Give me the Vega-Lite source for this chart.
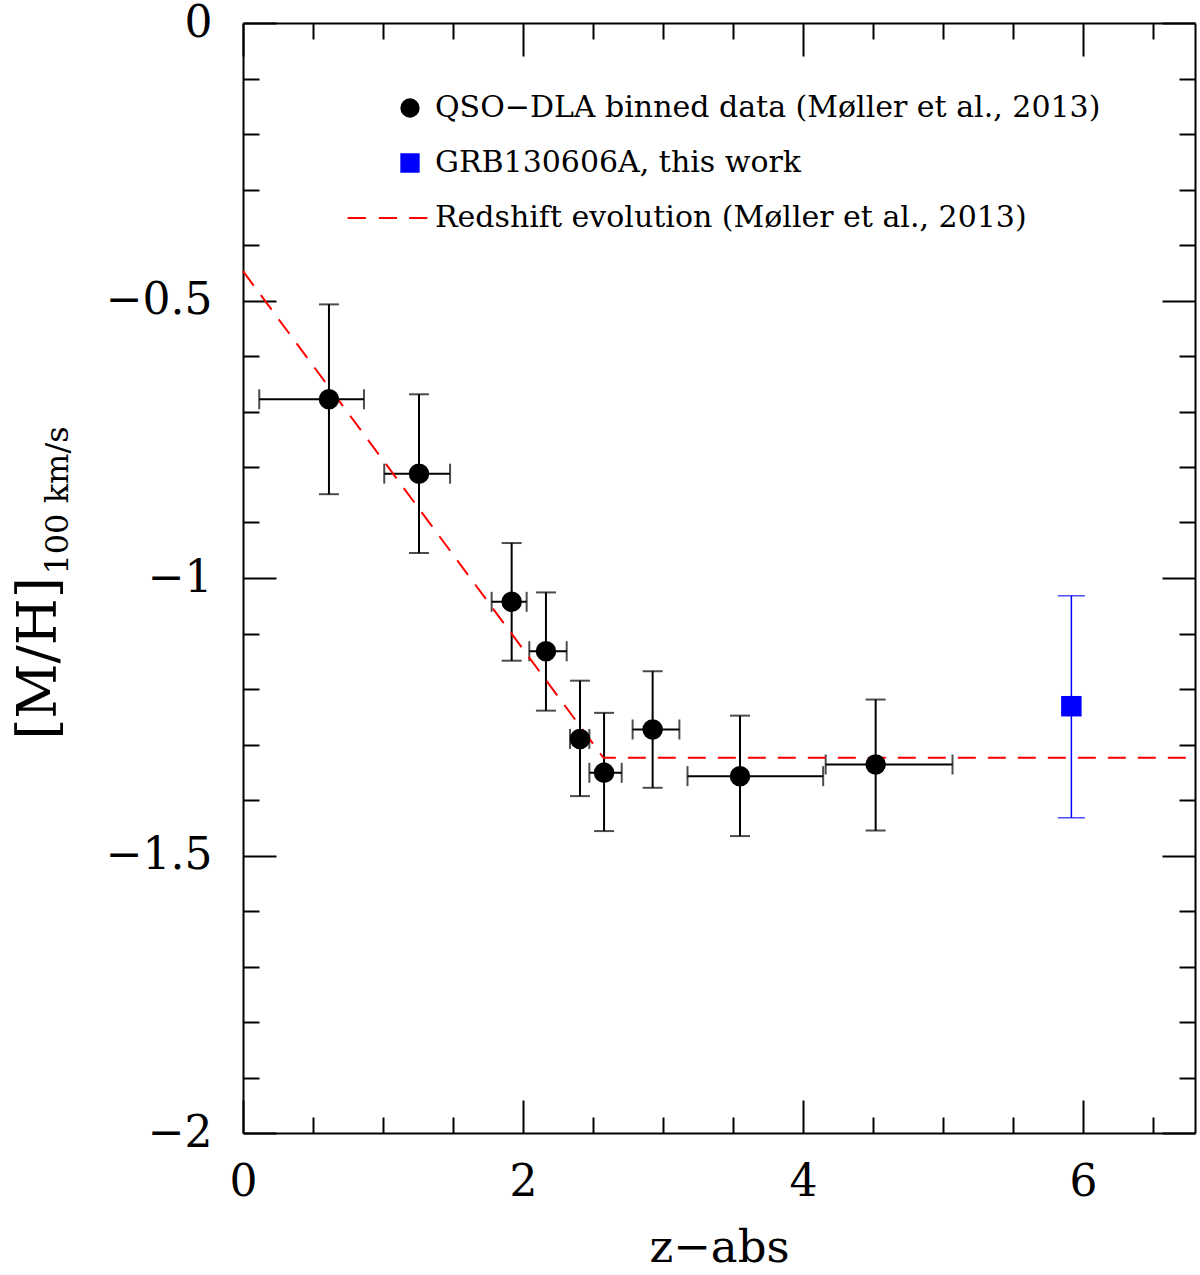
{
  "$schema": "https://vega.github.io/schema/vega-lite/v6.json",
  "width": 952,
  "height": 1110,
  "autosize": "none",
  "padding": {"left": 243, "top": 23, "right": 5, "bottom": 142},
  "background": "white",
  "config": {
    "view": {"stroke": null},
    "font": "DejaVu Serif",
    "axis": {
      "domainColor": "black", "domainWidth": 2,
      "tickColor": "black", "tickWidth": 2,
      "labelColor": "black", "titleColor": "black",
      "grid": false,
      "labelFont": "DejaVu Serif", "titleFont": "DejaVu Serif",
      "titleFontWeight": "normal",
      "labelFlush": false, "labelOverlap": false
    }
  },
  "datasets": {
    "points": [
      {"series": "QSO−DLA binned data (Møller et al., 2013)", "z": 0.614, "zlo": 0.116, "zhi": 0.864, "mh": -0.678, "mhlo": -0.849, "mhhi": -0.507},
      {"series": "QSO−DLA binned data (Møller et al., 2013)", "z": 1.257, "zlo": 1.009, "zhi": 1.479, "mh": -0.812, "mhlo": -0.955, "mhhi": -0.669},
      {"series": "QSO−DLA binned data (Møller et al., 2013)", "z": 1.919, "zlo": 1.776, "zhi": 2.026, "mh": -1.043, "mhlo": -1.149, "mhhi": -0.937},
      {"series": "QSO−DLA binned data (Møller et al., 2013)", "z": 2.164, "zlo": 2.045, "zhi": 2.312, "mh": -1.132, "mhlo": -1.239, "mhhi": -1.026},
      {"series": "QSO−DLA binned data (Møller et al., 2013)", "z": 2.407, "zlo": 2.336, "zhi": 2.474, "mh": -1.29, "mhlo": -1.393, "mhhi": -1.185},
      {"series": "QSO−DLA binned data (Møller et al., 2013)", "z": 2.579, "zlo": 2.474, "zhi": 2.705, "mh": -1.351, "mhlo": -1.456, "mhhi": -1.243},
      {"series": "QSO−DLA binned data (Møller et al., 2013)", "z": 2.926, "zlo": 2.783, "zhi": 3.117, "mh": -1.273, "mhlo": -1.378, "mhhi": -1.168},
      {"series": "QSO−DLA binned data (Møller et al., 2013)", "z": 3.55, "zlo": 3.175, "zhi": 4.144, "mh": -1.357, "mhlo": -1.465, "mhhi": -1.248},
      {"series": "QSO−DLA binned data (Møller et al., 2013)", "z": 4.519, "zlo": 4.162, "zhi": 5.068, "mh": -1.336, "mhlo": -1.455, "mhhi": -1.219},
      {"series": "GRB130606A, this work", "z": 5.917, "mh": -1.231, "mhlo": -1.432, "mhhi": -1.032}
    ],
    "fit": [
      {"z": 0, "mh": -0.447},
      {"z": 2.575, "mh": -1.324},
      {"z": 6.8, "mh": -1.324}
    ]
  },
  "resolve": {"axis": {"x": "independent", "y": "independent"}},
  "layer": [
    {
      "data": {"name": "points"},
      "transform": [{"filter": {"field": "series", "equal": "QSO−DLA binned data (Møller et al., 2013)"}}],
      "mark": {"type": "errorbar", "orient": "horizontal", "ticks": true, "size": 20, "thickness": 2, "color": "black"},
      "encoding": {
        "x": {"field": "zlo", "type": "quantitative", "scale": {"domain": [0, 6.8], "nice": false, "zero": false},
          "axis": {"orient": "bottom", "values": [0, 2, 4, 6], "tickSize": -33, "labelFontSize": 44, "labelPadding": 60, "format": "~g",
            "title": "z−abs", "titleFontSize": 45, "titleX": 476, "titleY": 128, "titleAlign": "center", "titleBaseline": "alphabetic", "titleAngle": 0}},
        "x2": {"field": "zhi"},
        "y": {"field": "mh", "type": "quantitative", "scale": {"domain": [-2, 0], "nice": false, "zero": false},
          "axis": {"orient": "left", "values": [0, -0.5, -1, -1.5, -2], "tickSize": -33, "labelFontSize": 44, "labelPadding": 64, "format": "~g",
            "title": "[M/H]", "titleFontSize": 54, "titleX": -188, "titleY": 635, "titleAngle": 270, "titleAlign": "center", "titleBaseline": "alphabetic"}}
      }
    },
    {
      "data": {"name": "points"},
      "transform": [{"filter": {"field": "series", "equal": "QSO−DLA binned data (Møller et al., 2013)"}}],
      "mark": {"type": "errorbar", "orient": "vertical", "ticks": true, "size": 20, "thickness": 2, "color": "black"},
      "encoding": {
        "x": {"field": "z", "type": "quantitative", "scale": {"domain": [0, 6.8], "nice": false, "zero": false},
          "axis": {"orient": "bottom", "values": [0.5, 1, 1.5, 2.5, 3, 3.5, 4.5, 5, 5.5, 6.5], "tickSize": -16, "labels": false, "domain": false, "title": null}},
        "y": {"field": "mhlo", "type": "quantitative", "scale": {"domain": [-2, 0], "nice": false, "zero": false},
          "axis": {"orient": "left", "values": [-0.1, -0.2, -0.3, -0.4, -0.6, -0.7, -0.8, -0.9, -1.1, -1.2, -1.3, -1.4, -1.6, -1.7, -1.8, -1.9],
            "tickSize": -16, "labels": false, "domain": false,
            "title": "100 km/s", "titleFontSize": 32, "titleX": -176, "titleY": 477, "titleAngle": 270, "titleAlign": "center", "titleBaseline": "alphabetic"}},
        "y2": {"field": "mhhi"}
      }
    },
    {
      "data": {"name": "points"},
      "transform": [{"filter": {"field": "series", "equal": "GRB130606A, this work"}}],
      "mark": {"type": "errorbar", "orient": "vertical", "ticks": true, "size": 27, "thickness": 1.5, "color": "#0000ff"},
      "encoding": {
        "x": {"field": "z", "type": "quantitative", "scale": {"domain": [0, 6.8], "nice": false, "zero": false},
          "axis": {"orient": "top", "values": [0, 2, 4, 6], "tickSize": -33, "labels": false, "title": null}},
        "y": {"field": "mhlo", "type": "quantitative", "scale": {"domain": [-2, 0], "nice": false, "zero": false},
          "axis": {"orient": "right", "values": [0, -0.5, -1, -1.5, -2], "tickSize": -33, "labels": false, "title": null}},
        "y2": {"field": "mhhi"}
      }
    },
    {
      "data": {"name": "fit"},
      "mark": {"type": "line", "color": "#ff0000", "strokeDash": [18, 12], "strokeWidth": 2},
      "encoding": {
        "x": {"field": "z", "type": "quantitative", "scale": {"domain": [0, 6.8], "nice": false, "zero": false},
          "axis": {"orient": "top", "values": [0.5, 1, 1.5, 2.5, 3, 3.5, 4.5, 5, 5.5, 6.5], "tickSize": -16, "labels": false, "domain": false, "title": null}},
        "y": {"field": "mh", "type": "quantitative", "scale": {"domain": [-2, 0], "nice": false, "zero": false},
          "axis": {"orient": "right", "values": [-0.1, -0.2, -0.3, -0.4, -0.6, -0.7, -0.8, -0.9, -1.1, -1.2, -1.3, -1.4, -1.6, -1.7, -1.8, -1.9],
            "tickSize": -16, "labels": false, "domain": false, "title": null}}
      }
    },
    {
      "data": {"name": "points"},
      "mark": {"type": "point", "filled": true, "size": 420, "opacity": 1},
      "encoding": {
        "x": {"field": "z", "type": "quantitative", "scale": {"domain": [0, 6.8], "nice": false, "zero": false}, "axis": null},
        "y": {"field": "mh", "type": "quantitative", "scale": {"domain": [-2, 0], "nice": false, "zero": false}, "axis": null},
        "color": {"field": "series", "type": "nominal",
          "scale": {"domain": ["QSO−DLA binned data (Møller et al., 2013)", "GRB130606A, this work", "Redshift evolution (Møller et al., 2013)"], "range": ["#000000", "#0000ff", "#ff0000"]},
          "legend": {
            "title": null, "orient": "none", "legendX": 152, "legendY": 70, "padding": 0,
            "labelFont": "DejaVu Serif", "labelFontSize": 30, "labelColor": "black", "labelLimit": 900, "labelOffset": 10,
            "rowPadding": 25, "symbolSize": 300, "symbolOpacity": 1, "symbolStrokeWidth": 2,
            "encode": {"symbols": {"update": {"stroke": {"scale": "color", "field": "value"}, "strokeWidth": {"value": 2}}}}
          }},
        "shape": {"field": "series", "type": "nominal",
          "scale": {"domain": ["QSO−DLA binned data (Møller et al., 2013)", "GRB130606A, this work", "Redshift evolution (Møller et al., 2013)"], "range": ["circle", "square", "M-7.2,0H-5.1M-3.6,0H-1.5M-0.1,0H2"]}}
      }
    }
  ]
}
